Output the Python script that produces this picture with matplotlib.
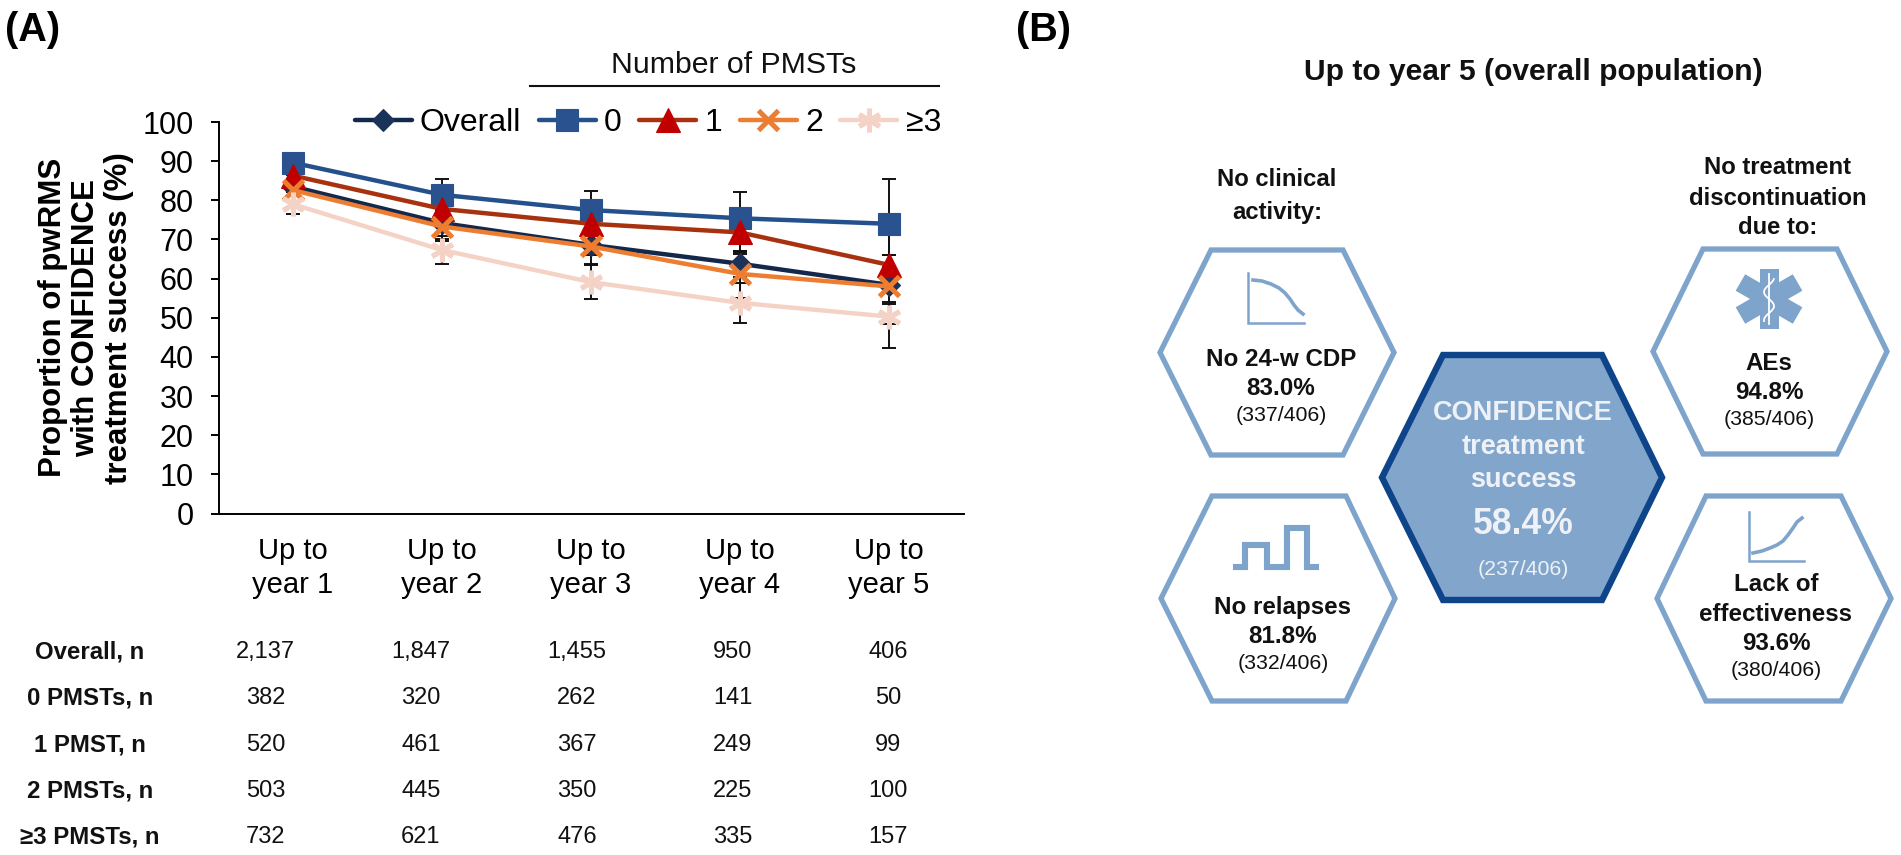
import numpy as np
import matplotlib
matplotlib.use("Agg")
import matplotlib.pyplot as plt
from matplotlib.patches import Polygon, Rectangle
from matplotlib.transforms import Affine2D

plt.rcParams['font.family'] = ['Liberation Sans', 'DejaVu Sans']

W, H = 1901, 855

## Data
categories = ["Up to\nyear 1", "Up to\nyear 2", "Up to\nyear 3", "Up to\nyear 4", "Up to\nyear 5"]
series_names = ["Overall", "0", "1", "2", "≥3"]

overall = [83.5, 74.2, 68.6, 63.8, 58.4]
pmst_0 = [89.6, 81.4, 77.5, 75.4, 74.0]
pmst_1 = [86.3, 77.8, 74.0, 71.8, 63.5]
pmst_2 = [82.6, 73.3, 68.2, 61.2, 58.0]
pmst_3 = [79.0, 67.3, 59.1, 53.8, 50.3]

overall_lo = [82.0, 70.0, 66.0, 60.5, 53.6]
overall_hi = [85.0, 76.0, 71.0, 66.9, 63.0]
pmst_0_lo = [86.5, 77.5, 72.5, 67.0, 66.0]
pmst_0_hi = [92.0, 85.4, 82.4, 82.0, 85.5]
pmst_1_lo = [83.5, 74.0, 69.5, 66.3, 54.0]
pmst_1_hi = [89.0, 81.5, 78.5, 77.0, 72.0]
pmst_2_lo = [79.5, 69.5, 63.8, 55.0, 48.5]
pmst_2_hi = [85.5, 77.0, 73.0, 67.0, 66.0]
pmst_3_lo = [76.5, 63.8, 54.8, 48.6, 42.3]
pmst_3_hi = [82.0, 71.0, 63.5, 59.0, 58.0]

row_labels = ["Overall, n", "0 PMSTs, n", "1 PMST, n", "2 PMSTs, n", "≥3 PMSTs, n"]
n_overall = ["2,137", "1,847", "1,455", "950", "406"]
n_pmst_0 = ["382", "320", "262", "141", "50"]
n_pmst_1 = ["520", "461", "367", "249", "99"]
n_pmst_2 = ["503", "445", "350", "225", "100"]
n_pmst_3 = ["732", "621", "476", "335", "157"]

## Layout in pixels
line_colors = ["#14284B", "#24508C", "#A8320F", "#ED7D31", "#F4D3C6"]
marker_colors = ["#1B3358", "#2A528E", "#C00000", "#ED7D31", "#F4D3C6"]
hex_blue = "#7FA4CC"
dark_blue = "#0E4489"

fig = plt.figure(figsize=(W / 100, H / 100), dpi=100, facecolor="white")

ax_left, ax_right, ax_top, ax_bottom = 218.5, 963.5, 122, 513.5
ax = fig.add_axes([ax_left / W, 1 - ax_bottom / H, (ax_right - ax_left) / W, (ax_bottom - ax_top) / H])

# overlay in pixel coordinates, for the table and the hexagons
ov = fig.add_axes([0, 0, 1, 1], facecolor="none")
ov.set_xlim(0, W)
ov.set_ylim(H, 0)
ov.axis("off")

x = np.arange(1, 6)
values = [overall, pmst_0, pmst_1, pmst_2, pmst_3]
lows = [overall_lo, pmst_0_lo, pmst_1_lo, pmst_2_lo, pmst_3_lo]
highs = [overall_hi, pmst_0_hi, pmst_1_hi, pmst_2_hi, pmst_3_hi]
markers = ["D", "s", "^", "x", (6, 2, 0)]
sizes = [11, 16, 17, 14.5, 17]

# error bars go under all of the lines
for vals, lo, hi in zip(values, lows, highs):
    vals = np.array(vals)
    ax.errorbar(x, vals, yerr=[vals - np.array(lo), np.array(hi) - vals], fmt="none",
                ecolor="#111111", elinewidth=1.4, capsize=4.8, capthick=1.4, zorder=2)

handles = []
for i in range(5):
    line, = ax.plot(x, values[i], color=line_colors[i], lw=3.2, marker=markers[i], ms=sizes[i],
                    mfc=marker_colors[i], mec=marker_colors[i], mew=3.6 if i > 2 else 0.8,
                    label=series_names[i], zorder=3 + i, solid_capstyle="round")
    handles.append(line)

ax.set_xlim(0.5, 5.5)
ax.set_ylim(0, 100)
ax.set_yticks(np.arange(0, 101, 10))
ax.set_xticks(x)
ax.set_xticklabels(categories, fontsize=21, linespacing=1.28)
ax.tick_params(axis="x", length=0, pad=17)
ax.tick_params(axis="y", length=5.8, width=1.4, labelsize=22, pad=12)
ax.spines["top"].set_visible(False)
ax.spines["right"].set_visible(False)
ax.spines["left"].set_linewidth(1.4)
ax.spines["bottom"].set_linewidth(1.4)
ax.patch.set_alpha(0)

ax.set_ylabel("Proportion of pwRMS\nwith CONFIDENCE\ntreatment success (%)", fontsize=22.5,
              fontweight="bold", linespacing=1.12, va="center")
ax.yaxis.set_label_coords((86 - ax_left) / (ax_right - ax_left), 0.5)

fig.legend(handles=handles, loc="center right", bbox_to_anchor=(941 / W, 1 - 123 / H), ncol=5,
           frameon=False, fontsize=23, handlelength=1.78, handletextpad=0.26, columnspacing=0.55,
           borderpad=0, borderaxespad=0)

ov.text(733.5, 65, "Number of PMSTs", fontsize=21.8, ha="center", va="center", color="#111111")
ov.plot([530, 939], [85.7, 85.7], color="#111111", lw=1.5)

ov.text(5, 30, "(A)", fontsize=28.5, fontweight="bold", va="center")
ov.text(1016, 30, "(B)", fontsize=28.5, fontweight="bold", va="center")

## Table under the chart
rows = [n_overall, n_pmst_0, n_pmst_1, n_pmst_2, n_pmst_3]
row_y = [652, 698, 745, 791, 837]
col_x = [265.5, 421, 577, 733, 888]
for label, row, y in zip(row_labels, rows, row_y):
    ov.text(90, y, label, fontsize=17.3, fontweight="bold", ha="center", va="center", color="#111111")
    for cx, val in zip(col_x, row):
        ov.text(cx, y, val, fontsize=17, ha="center", va="center", color="#111111")


## Panel B
def hexagon(x0, x1, x2, x3, top, bottom, face, edge, lw):
    mid = (top + bottom) / 2
    pts = [(x0, mid), (x1, top), (x2, top), (x3, mid), (x2, bottom), (x1, bottom)]
    ov.add_patch(Polygon(pts, closed=True, fc=face, ec=edge, lw=lw, joinstyle="miter"))


hexagon(1160, 1211, 1343, 1394, 250, 455, "white", hex_blue, 3.8)
hexagon(1161, 1212, 1346, 1395, 496, 701, "white", hex_blue, 3.8)
hexagon(1653, 1703, 1837, 1887, 249, 454, "white", hex_blue, 3.8)
hexagon(1657, 1706, 1841, 1891, 496, 701, "white", hex_blue, 3.8)
hexagon(1382, 1443, 1602, 1662, 355, 600, "#82A5CC", dark_blue, 4.6)

ov.text(1533, 72, "Up to year 5 (overall population)", fontsize=21.6, fontweight="bold",
        ha="center", va="center", color="#111111")


def multi(cx, ys, lines, weights, sizes, color="#111111"):
    for y, s, w, fs in zip(ys, lines, weights, sizes):
        ov.text(cx, y, s, fontsize=fs, fontweight=w, ha="center", va="center", color=color)


multi(1277, [180, 212], ["No clinical", "activity:"], ["bold"] * 2, [17.2] * 2)
multi(1778, [168, 198, 227], ["No treatment", "discontinuation", "due to:"], ["bold"] * 3, [17.2] * 3)

bold2 = ["bold", "bold", "normal"]
sz3 = [17.4, 17.4, 15.3]
multi(1281, [359, 388, 415], ["No 24-w CDP", "83.0%", "(337/406)"], bold2, sz3)
multi(1283, [607, 636, 663], ["No relapses", "81.8%", "(332/406)"], bold2, sz3)
multi(1769, [363, 392, 419], ["AEs", "94.8%", "(385/406)"], bold2, sz3)
multi(1776, [584, 614, 643, 670], ["Lack of", "effectiveness", "93.6%", "(380/406)"],
      ["bold", "bold", "bold", "normal"], [17.4, 17.4, 17.4, 15.3])

multi(1523, [413, 447, 480, 524, 569], ["CONFIDENCE", "treatment", "success", "58.4%", "(237/406)"],
      ["bold", "bold", "bold", "bold", "normal"], [19.5, 19.5, 19.5, 25.6, 15.3], color="#EEF2F7")

# small icons inside the hexagons
ov.plot([1248, 1248, 1303.5], [273, 323, 323], color=hex_blue, lw=1.8, solid_joinstyle="miter")
ov.plot([1253, 1262, 1271, 1279, 1285, 1290, 1294, 1298, 1303],
        [280, 281, 284, 288, 293, 299, 305, 310, 314], color=hex_blue, lw=2.6)

ov.plot([1233, 1245, 1245, 1267, 1267, 1287, 1287, 1307, 1307, 1319],
        [567, 567, 545, 545, 567, 567, 528, 528, 567, 567],
        color=hex_blue, lw=4.4, solid_joinstyle="miter", solid_capstyle="butt")

ov.plot([1749, 1749, 1804], [512, 561, 561], color=hex_blue, lw=1.8, solid_joinstyle="miter")
ov.plot([1753, 1762, 1770, 1777, 1783, 1788, 1793, 1797, 1802],
        [553, 551, 548, 545, 541, 535, 528, 522, 518], color=hex_blue, lw=2.6)

# star of life
star_x, star_y = 1769, 299
for angle, length in [(0, 60), (60, 66), (120, 66)]:
    arm = Rectangle((star_x - 9.5, star_y - length / 2), 19, length, fc=hex_blue, ec="none",
                    transform=Affine2D().rotate_deg_around(star_x, star_y, angle) + ov.transData)
    ov.add_patch(arm)
ov.plot([star_x, star_x], [star_y - 25, star_y + 25], color="white", lw=1.3)
snake_y = np.linspace(star_y - 20, star_y + 22, 60)
ov.plot(star_x + 5 * np.sin((snake_y - star_y) / 4.5), snake_y, color="white", lw=1.3)

fig.savefig("out.png", dpi=100, facecolor="white")
